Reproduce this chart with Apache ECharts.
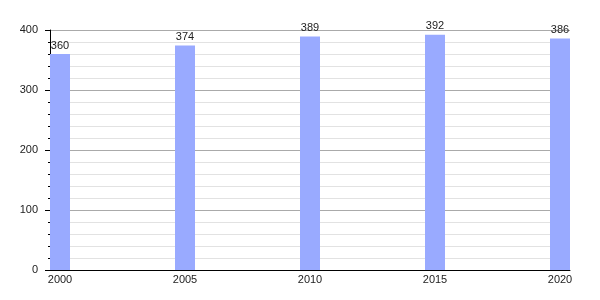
<!DOCTYPE html>
<html>
<head>
<meta charset="utf-8">
<script src="https://cdn.jsdelivr.net/npm/echarts@6/dist/echarts.min.js"></script>
<style>html,body{margin:0;padding:0;background:#fff;}#c{width:600px;height:300px;}</style>
</head>
<body>
<div id="c"></div>
<script>
var years = [2000, 2005, 2010, 2015, 2020];
var values = [360, 374, 389, 392, 386];
var yTicks = [0, 100, 200, 300, 400];

var chart = echarts.init(document.getElementById('c'), null, {renderer: 'canvas'});
var font = 'Liberation Sans, Arial, sans-serif';
chart.setOption({
  animation: false,
  grid: {left: 50, right: 30, top: 30, bottom: 30, containLabel: false},
  xAxis: {
    type: 'value',
    min: 1999.6,
    max: 2020.4,
    axisLine: {show: true, lineStyle: {color: '#000', width: 1}},
    axisTick: {show: false},
    splitLine: {show: false},
    axisLabel: {
      customValues: years,
      formatter: function (v) { return String(v); },
      color: '#222', fontSize: 11, fontFamily: font, margin: 4
    }
  },
  yAxis: {
    type: 'value',
    min: yTicks[0],
    max: yTicks[yTicks.length - 1],
    interval: 100,
    axisLine: {show: true, lineStyle: {color: '#000', width: 1}},
    axisTick: {show: true, length: 5, lineStyle: {color: '#000'}},
    minorTick: {show: true, splitNumber: 5, length: 2, lineStyle: {color: '#000'}},
    splitLine: {show: true, lineStyle: {color: '#aaaaaa', width: 1}},
    minorSplitLine: {show: true, lineStyle: {color: '#e2e2e2', width: 1}},
    axisLabel: {color: '#222', fontSize: 11, fontFamily: font, margin: 12}
  },
  series: [{
    type: 'bar',
    barWidth: 20,
    data: years.map(function (y, i) { return [y, values[i]]; }),
    itemStyle: {color: '#99aaff'},
    label: {show: true, position: 'top', distance: 3, color: '#222', fontSize: 11, fontFamily: font},
    z: 3
  }]
});
</script>
</body>
</html>
